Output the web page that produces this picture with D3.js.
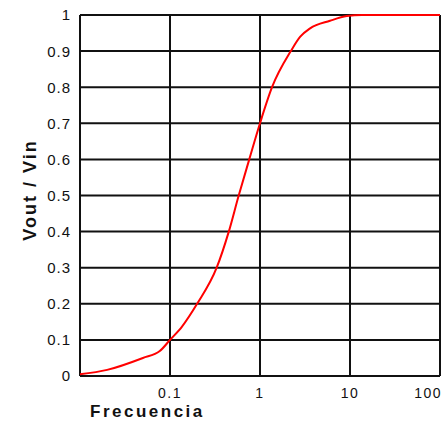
<!DOCTYPE html>
<html>
<head>
<meta charset="utf-8">
<script src="https://cdn.jsdelivr.net/npm/d3@7/dist/d3.min.js"></script>
<style>
  body { margin: 0; background: #fff; }
  svg { display: block; }
  text { font-family: "Liberation Sans", Arial, sans-serif; fill: #111; }
</style>
</head>
<body>
<svg id="chart" width="446" height="421"></svg>
<script>
// values
var freq = [0.01, 0.02, 0.05, 0.077, 0.1, 0.136, 0.2, 0.33, 0.45, 0.58, 0.76, 1.0, 1.36, 2.2, 2.8, 3.6, 6.0, 9.2, 13.5, 100];
var vratio = [0.005, 0.017, 0.05, 0.069, 0.1, 0.137, 0.2, 0.3, 0.4, 0.5, 0.6, 0.7, 0.8, 0.9, 0.94, 0.963, 0.984, 0.997, 1, 1];
var xTicks = [0.1, 1, 10, 100];
var xTickLabels = ["0.1", "1", "10", "100"];
var yTicks = [0, 0.1, 0.2, 0.3, 0.4, 0.5, 0.6, 0.7, 0.8, 0.9, 1];
var yTickLabels = ["0", "0.1", "0.2", "0.3", "0.4", "0.5", "0.6", "0.7", "0.8", "0.9", "1"];

var margin = { top: 15, right: 6, bottom: 45, left: 80 },
  width = 446 - margin.left - margin.right,
  height = 421 - margin.top - margin.bottom;

var svg = d3.select("#chart")
  .append("g")
  .attr("transform", "translate(" + margin.left + "," + margin.top + ")");

var x = d3.scaleLog().domain([0.01, 100]).range([0, width]);
var y = d3.scaleLinear().domain([0, 1]).range([height, 0]);

// horizontal grid
svg.selectAll(".hgrid")
  .data(yTicks)
  .enter()
  .append("line")
  .attr("x1", 0)
  .attr("x2", width)
  .attr("y1", function (d) { return y(d); })
  .attr("y2", function (d) { return y(d); })
  .attr("stroke", "#111")
  .attr("stroke-width", 2);

// vertical grid
svg.selectAll(".vgrid")
  .data([0.01].concat(xTicks))
  .enter()
  .append("line")
  .attr("x1", function (d) { return x(d); })
  .attr("x2", function (d) { return x(d); })
  .attr("y1", 0)
  .attr("y2", height)
  .attr("stroke", "#111")
  .attr("stroke-width", 2);

// the curve
var line = d3.line()
  .x(function (d, i) { return x(freq[i]); })
  .y(function (d) { return y(d); })
  .curve(d3.curveMonotoneX);

svg.append("path")
  .datum(vratio)
  .attr("d", line)
  .attr("fill", "none")
  .attr("stroke", "#ff0000")
  .attr("stroke-width", 2);

// y tick labels
svg.selectAll(".ylab")
  .data(yTicks)
  .enter()
  .append("text")
  .attr("x", -9)
  .attr("y", function (d) { return y(d); })
  .attr("dy", "0.36em")
  .attr("text-anchor", "end")
  .style("font-size", "15px")
  .style("letter-spacing", "1px")
  .text(function (d, i) { return yTickLabels[i]; });

// x tick labels (last one pulled in to stay inside the picture)
svg.selectAll(".xlab")
  .data(xTicks)
  .enter()
  .append("text")
  .attr("x", function (d, i) { return i == xTicks.length - 1 ? x(d) + 2 : x(d); })
  .attr("y", height + 22)
  .attr("text-anchor", function (d, i) { return i == xTicks.length - 1 ? "end" : "middle"; })
  .style("font-size", "14px")
  .style("letter-spacing", "1.5px")
  .text(function (d, i) { return xTickLabels[i]; });

// axis titles
svg.append("text")
  .attr("x", 10)
  .attr("y", height + 41)
  .style("font-size", "17px")
  .style("font-weight", "bold")
  .style("letter-spacing", "2.5px")
  .text("Frecuencia");

svg.append("text")
  .attr("transform", "rotate(-90)")
  .attr("x", -(190 - margin.top))
  .attr("y", 36 - margin.left)
  .attr("text-anchor", "middle")
  .style("font-size", "18px")
  .style("font-weight", "bold")
  .style("letter-spacing", "2px")
  .text("Vout / Vin");
</script>
</body>
</html>
